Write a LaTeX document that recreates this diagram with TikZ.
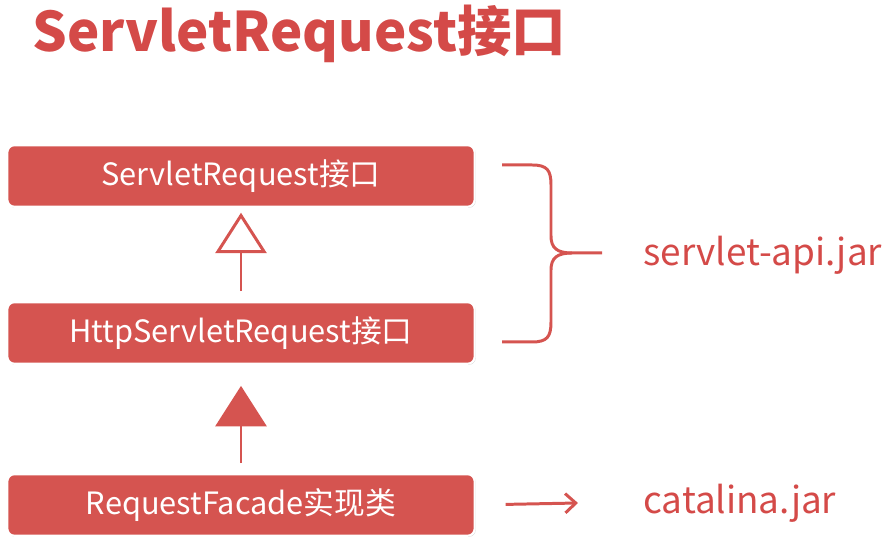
\documentclass[tikz,border=0pt]{standalone}
\usepackage{fontspec}
\setmainfont{Noto Sans CJK SC}
\usepackage{tikz}
\usetikzlibrary{arrows.meta,shadows}
\usetikzlibrary{positioning}

\definecolor{boxred}{RGB}{213,84,80}
\definecolor{textred}{RGB}{212,74,72}

\tikzset{
  box/.style={rectangle,rounded corners=4pt,draw=white,line width=1.2pt,fill=boxred,
    text=white,minimum width=266pt,minimum height=35pt,align=center,font=\fontsize{17.5}{20}\selectfont,
    drop shadow={opacity=0.35,shadow xshift=0.6pt,shadow yshift=-0.6pt}},
  jar/.style={text=textred,anchor=west,inner sep=0pt,font=\fontsize{21}{24}\selectfont},
  link/.style={draw=boxred,line width=1.7pt}
}

\begin{document}
\begin{tikzpicture}[x=0.02cm,y=-0.02cm]
\useasboundingbox (0,0) rectangle (887,546);
\node at (32,52)[anchor=base west,inner sep=0pt,text=textred,font=\bfseries\fontsize{31}{36}\selectfont](title){ServletRequest接口};
\node at (241,176)[box](sreq){ServletRequest接口};
\node at (241,333)[box](hsreq){HttpServletRequest接口};
\node at (241,505)[box](facade){RequestFacade实现类};
\node at (643,255)[jar](api){servlet-api.jar};
\node at (643,503)[jar](cat){catalina.jar};
% inheritance arrows
\draw[link,-{Triangle[open,width=29pt,length=23pt]},fill=white,shorten <=5.7pt,shorten >=2.8pt] (hsreq.north) -- (sreq.south);
\draw[link,-{Triangle[width=29pt,length=23pt]},shorten <=5.7pt,shorten >=12pt] (facade.north) -- (hsreq.south);
% jar arrow
\draw[link,line width=1.7pt,-{Straight Barb[length=6pt,width=11pt]},shorten <=17pt] (facade.east) -- ([xshift=-37pt]cat.west);
% brace
\draw[link] (502,165) -- (532,165) .. controls (547,165) and (551,170) .. (551,185)
  -- (551,236) .. controls (551,248) and (557,253) .. (572,253) -- (602,253);
\draw[link] (502,342) -- (532,342) .. controls (547,342) and (551,337) .. (551,322)
  -- (551,270) .. controls (551,258) and (557,253) .. (572,253);
\end{tikzpicture}
\end{document}
